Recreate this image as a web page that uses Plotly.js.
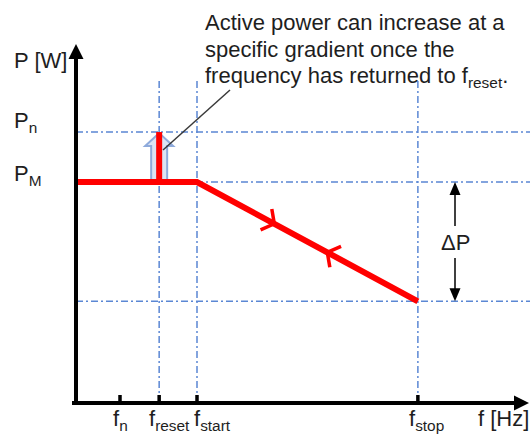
<!DOCTYPE html>
<html>
<head>
<meta charset="utf-8">
<script src="https://cdn.plot.ly/plotly-3.0.1.min.js"></script>
<style>html,body{margin:0;padding:0;background:#fff;}#chart{width:530px;height:434px;}</style>
</head>
<body>
<div id="chart"></div>
<script>
// ---- data (schematic units) ----
const freqLabels = ['f<sub>n</sub>', 'f<sub>reset</sub>', 'f<sub>start</sub>', 'f<sub>stop</sub>'];
const freqValues = [1.0, 1.89, 2.75, 7.77];           // fn, freset, fstart, fstop
const powerLabels = ['P<sub>n</sub>', 'P<sub>M</sub>'];
const powerValues = [122.6, 100];                    // Pn, PM
const pStop = 46;                                    // power at fstop
const curveF = [0, 2.75, 7.77];                      // red characteristic
const curveP = [100, 100, 46];
const resetF = [1.89, 1.89];                         // step back up at freset
const resetP = [100, 122.6];
const axisLabelX = 'f [Hz]';
const axisLabelY = 'P [W]';
const noteLines = ['Active power can increase at a', 'specific gradient once the', 'frequency has returned to f<sub>reset</sub>.'];

// ---- pixel <-> data helpers (layout calibration) ----
const X0 = 76, KX = 44, Y0 = 403, KY = 2.21;
const fx = px => (px - X0) / KX;
const py = px => (Y0 - px) / KY;
const tx = f => X0 + f * KX;
const ty = p => Y0 - p * KY;

const FONT = 'Liberation Sans, Arial, sans-serif';
const BLUE = '#5B87D4';
const fReset = freqValues[1], fStart = freqValues[2], fStopV = freqValues[3];
const pN = powerValues[0], pM = powerValues[1];

const shapes = [];
const annotations = [];

function pathFromPx(pts, close) {
  return 'M' + pts.map(p => fx(p[0]) + ',' + py(p[1])).join('L') + (close ? 'Z' : '');
}
function lineShape(x0, y0, x1, y1, color, width, dash, layer) {
  shapes.push({type: 'line', xref: 'x', yref: 'y', x0: x0, y0: y0, x1: x1, y1: y1,
    line: {color: color, width: width, dash: dash || 'solid'}, layer: layer || 'above'});
}
function triangle(tipX, tipY, dirX, dirY, len, half) {
  // tip in pixels, direction unit vector in pixel space
  const bx = tipX - dirX * len, by = tipY - dirY * len;
  const nx = -dirY, ny = dirX;
  shapes.push({type: 'path', xref: 'x', yref: 'y', layer: 'above',
    path: pathFromPx([[tipX, tipY], [bx + nx * half, by + ny * half], [bx - nx * half, by - ny * half]], true),
    fillcolor: '#000', line: {color: '#000', width: 0}});
}

// dash-dot guide lines
const DASH = '7px,3px,2px,3px';
[pN, pM, pStop].forEach(p => lineShape(0, p, fx(530), p, BLUE, 1.5, DASH, 'below'));
[fReset, fStart, fStopV].forEach(f => lineShape(f, 0, f, py(80), BLUE, 1.5, DASH, 'below'));

// hollow blue arrow at freset
(function () {
  const cx = tx(fReset), yb = ty(pM), yt = ty(pN) + 1, yh = yt + 13;
  const pts = [[cx - 8, yb], [cx - 8, yh], [cx - 14, yh], [cx, yt], [cx + 14, yh], [cx + 8, yh], [cx + 8, yb]];
  shapes.push({type: 'path', xref: 'x', yref: 'y', path: pathFromPx(pts, true), fillcolor: 'rgba(190,206,235,0.55)',
    line: {color: '#8EAADB', width: 2}, layer: 'below'});
})();

// x tick marks
freqValues.forEach(f => lineShape(f, 0, f, py(395), '#000', 3.5));

// callout leader line
lineShape(fx(230), py(90), fx(163), py(150), '#3a3a3a', 1.5);

// axes with arrows
lineShape(fx(72), 0, fx(516), 0, '#000', 4);
triangle(tx(fx(529)), ty(0), 1, 0, 15, 7.5);
lineShape(0, py(405), 0, py(57), '#000', 4);
triangle(tx(0), 44, 0, -1, 15, 7.5);

// delta P arrows
const xDP = 455;
lineShape(fx(xDP), py(226), fx(xDP), py(194), '#000', 1.5);
triangle(xDP, ty(pM), 0, -1, 13, 5.5);
lineShape(fx(xDP), py(258), fx(xDP), py(289), '#000', 1.5);
triangle(xDP, ty(pStop), 0, 1, 13, 5.5);

function label(text, pxX, pxY, xanchor) {
  annotations.push({x: fx(pxX), y: py(pxY), xref: 'x', yref: 'y', text: text, showarrow: false,
    xanchor: xanchor || 'left', yanchor: 'middle', font: {family: FONT, size: 22, color: '#1e1e1e'}});
}
label('ΔP', xDP, 242, 'center');
label(axisLabelY, 12, 60);
label(powerLabels[0], 12, 122);
label(powerLabels[1], 12, 175);
const fLabelPx = [111, 147, 192, 407];
freqLabels.forEach((t, i) => label(t, fLabelPx[i], 420));
label(axisLabelX, 476, 418);
label(noteLines[0], 203, 22);
label(noteLines[1], 203, 49);
label(noteLines[2], 203, 77);

// chevrons on the slope
function chevron(t, forward) {
  const x0 = tx(curveF[1]), y0 = ty(curveP[1]), x1 = tx(curveF[2]), y1 = ty(curveP[2]);
  const L = Math.hypot(x1 - x0, y1 - y0), ux = (x1 - x0) / L, uy = (y1 - y0) / L;
  const s = forward ? 1 : -1;
  const cxp = x0 + (x1 - x0) * t, cyp = y0 + (y1 - y0) * t;
  const bx = -ux * s, by = -uy * s, a = 52 * Math.PI / 180, len = 15;
  const r = (ang) => [cxp + len * (bx * Math.cos(ang) - by * Math.sin(ang)), cyp + len * (bx * Math.sin(ang) + by * Math.cos(ang))];
  const p1 = r(a), p2 = r(-a);
  return {x: [fx(p1[0]), fx(cxp), fx(p2[0])], y: [py(p1[1]), py(cyp), py(p2[1])], mode: 'lines',
    line: {color: '#FF0000', width: 3.5}, hoverinfo: 'skip', showlegend: false};
}

const traces = [
  {x: curveF, y: curveP, mode: 'lines', line: {color: '#FF0000', width: 6}, hoverinfo: 'skip', showlegend: false},
  {x: resetF, y: resetP, mode: 'lines', line: {color: '#FF0000', width: 6}, hoverinfo: 'skip', showlegend: false},
  chevron(0.35, true),
  chevron(0.59, false)
];

const layout = {
  width: 530, height: 434, margin: {l: 0, r: 0, t: 0, b: 0},
  paper_bgcolor: '#fff', plot_bgcolor: '#fff', showlegend: false,
  xaxis: {range: [fx(0), fx(530)], visible: false, fixedrange: true},
  yaxis: {range: [py(434), py(0)], visible: false, fixedrange: true},
  shapes: shapes, annotations: annotations
};
Plotly.newPlot('chart', traces, layout, {displayModeBar: false, staticPlot: true});
</script>
</body>
</html>
